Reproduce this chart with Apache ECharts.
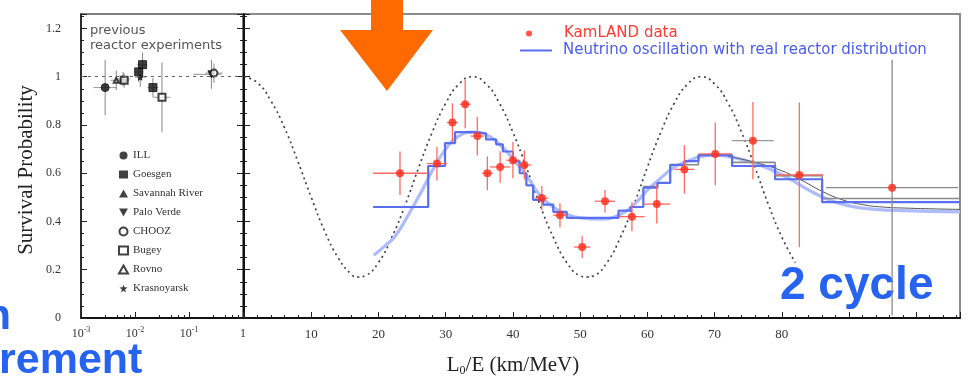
<!DOCTYPE html>
<html>
<head>
<meta charset="utf-8">
<script src="https://cdn.jsdelivr.net/npm/echarts@6/dist/echarts.min.js"></script>
<style>html,body{margin:0;background:#fff}#chart{width:971px;height:382px}</style>
</head>
<body>
<div id="chart"></div>
<script>
// previous reactor experiments (left panel, log L/E)
const prevNames = ['ILL', 'Goesgen', 'Savannah River', 'Palo Verde', 'CHOOZ', 'Bugey', 'Rovno', 'Krasnoyarsk'];
const prevExp = [0, 6, 2, 5, 1, 1, 7, 1, 5, 3, 4];
const prevX = [0.0028, 0.0045, 0.0060, 0.0063, 0.0117, 0.0138, 0.0125, 0.0215, 0.0316, 0.26, 0.29];
const prevY = [0.955, 0.985, 0.99, 0.985, 1.02, 1.05, 0.998, 0.955, 0.915, 1.01, 1.015];
const prevYErr = [0.115, 0.04, 0.03, 0.03, 0.04, 0.05, 0.04, 0.04, 0.145, 0.06, 0.04];
const prevXLo = [0.0017, 0.0035, 0.0045, 0.005, 0.0095, 0.011, 0.010, 0.017, 0.022, 0.12, 0.2];
const prevXHi = [0.0045, 0.0055, 0.0080, 0.0078, 0.0145, 0.017, 0.016, 0.027, 0.045, 0.4, 0.42];

// KamLAND data
const kamX = [23.2, 28.7, 31.0, 32.9, 34.7, 36.2, 38.1, 40.0, 41.7, 44.3, 47.0, 50.3, 53.7, 57.7, 61.4, 65.5, 70.1, 75.7, 82.6, 96.4];
const kamY = [0.60, 0.64, 0.81, 0.886, 0.754, 0.60, 0.626, 0.654, 0.634, 0.497, 0.426, 0.294, 0.484, 0.42, 0.472, 0.616, 0.68, 0.735, 0.593, 0.54];
const kamYErr = [0.09, 0.07, 0.08, 0.10, 0.08, 0.07, 0.065, 0.075, 0.06, 0.05, 0.05, 0.045, 0.047, 0.06, 0.08, 0.10, 0.13, 0.16, 0.30, 0.53];
const kamXErr = [4.0, 1.5, 0.8, 0.8, 1.0, 0.8, 1.5, 1.0, 1.0, 1.0, 1.0, 1.2, 1.5, 1.9, 2.0, 1.5, 2.5, 3.1, 3.6, 9.8];

// dotted oscillation curve
const oscX = [0, 2, 4, 6, 8, 10, 12, 14, 16, 17, 18, 20, 22, 24, 26, 28, 30, 32, 34, 36, 38, 40, 42, 44, 46, 48, 50, 51, 52, 54, 56, 58, 60, 62, 64, 66, 68, 70, 72, 74, 76, 78, 80, 82];
const oscY = [1.0, 0.975, 0.90, 0.79, 0.65, 0.50, 0.36, 0.25, 0.18, 0.17, 0.175, 0.23, 0.335, 0.47, 0.625, 0.77, 0.89, 0.97, 1.0, 0.97, 0.89, 0.77, 0.625, 0.47, 0.335, 0.23, 0.175, 0.17, 0.175, 0.23, 0.335, 0.47, 0.625, 0.77, 0.89, 0.97, 1.0, 0.97, 0.89, 0.77, 0.625, 0.47, 0.335, 0.23];

// light blue smooth expectation
const smoothX = [19.3, 21, 22.5, 24.5, 26.5, 28, 30, 32, 34, 36, 38, 40, 42, 44, 46, 48, 50, 53, 56, 58, 60, 62, 64, 66, 68, 70, 72, 75, 78, 81, 84, 87, 90, 94, 98, 106.5];
const smoothY = [0.26, 0.30, 0.34, 0.43, 0.53, 0.61, 0.70, 0.755, 0.77, 0.76, 0.72, 0.66, 0.59, 0.51, 0.46, 0.43, 0.415, 0.41, 0.43, 0.47, 0.53, 0.58, 0.625, 0.65, 0.67, 0.675, 0.67, 0.65, 0.62, 0.58, 0.53, 0.49, 0.465, 0.45, 0.445, 0.44];

// gray best-fit tail
const fitX = [72, 76, 80, 83, 86, 89, 92, 95, 99, 103, 106.5];
const fitY = [0.67, 0.645, 0.61, 0.57, 0.525, 0.49, 0.47, 0.46, 0.455, 0.452, 0.45];

// histograms (bin edges + bin values)
const blueEdges = [19.2, 27.4, 29.9, 31.4, 34.5, 36, 37.5, 38.5, 40, 41, 42, 43, 44.5, 46, 48, 55.7, 57.5, 59.4, 61.5, 63.4, 65.5, 67.6, 72.6, 79, 86, 106.5];
const blueVals = [0.46, 0.63, 0.725, 0.77, 0.765, 0.74, 0.72, 0.69, 0.65, 0.60, 0.55, 0.49, 0.47, 0.44, 0.415, 0.445, 0.46, 0.54, 0.56, 0.635, 0.65, 0.675, 0.63, 0.575, 0.48];
const grayEdges = [59.4, 61.5, 63.4, 67.6, 72.6, 79, 86, 106.5];
const grayVals = [0.545, 0.56, 0.635, 0.675, 0.645, 0.59, 0.495];

const serif = 'Liberation Serif';
const sans = 'DejaVu Sans';
const steps = (edges, vals) => edges.map((e, i) => [e, vals[Math.min(i, vals.length - 1)]]);
const pairs = (xs, ys) => xs.map((x, i) => [x, ys[i]]);

const prevSymbols = ['circle', 'rect', 'triangle', 'path://M0,0L10,0L5,9Z', 'emptyCircle', 'emptyRect', 'emptyTriangle',
  'path://M5,0L6.2,3.5L10,3.8L7,6.2L8,10L5,7.8L2,10L3,6.2L0,3.8L3.8,3.5Z'];
const prevSizes = [8, 8, 7, 7, 7, 7, 5, 6];

function errorBars(getColor, width) {
  return function (params, api) {
    const x = api.value(0), y = api.value(1);
    const a = api.coord([api.value(2), y]);
    const b = api.coord([api.value(3), y]);
    const c = api.coord([x, api.value(4)]);
    const d = api.coord([x, api.value(5)]);
    const col = getColor(params.dataIndex);
    return {
      type: 'group',
      children: [
        {type: 'line', shape: {x1: a[0], y1: a[1], x2: b[0], y2: b[1]}, style: {stroke: col.x, lineWidth: width}},
        {type: 'line', shape: {x1: c[0], y1: c[1], x2: d[0], y2: d[1]}, style: {stroke: col.y, lineWidth: width}}
      ]
    };
  };
}

const chart = echarts.init(document.getElementById('chart'));
const tickStyle = {color: '#222', width: 1};

chart.setOption({
  animation: false,
  grid: [
    {left: 81, top: 14, width: 162, height: 304, show: true, borderColor: '#555', borderWidth: 1.5},
    {left: 244, top: 14, width: 716, height: 304, show: true, borderColor: '#8a8a8a', borderWidth: 2}
  ],
  xAxis: [
    {
      type: 'log', gridIndex: 0, min: 0.001, max: 1, logBase: 10,
      axisLine: {lineStyle: {color: '#111', width: 2}},
      axisTick: {inside: true, length: 6, lineStyle: tickStyle},
      minorTick: {show: true, splitNumber: 5, length: 3, lineStyle: tickStyle},
      splitLine: {show: false},
      axisLabel: {
        fontFamily: serif, fontSize: 12, color: '#333', margin: 8, lineHeight: 15,
        formatter: v => v >= 0.999 ? '1' : '10{sup|' + Math.round(Math.log10(v)) + '}',
        rich: {sup: {fontSize: 8, fontFamily: serif, color: '#333', verticalAlign: 'top', lineHeight: 8}}
      }
    },
    {
      type: 'value', gridIndex: 1, min: 0, max: 106.5, interval: 10,
      axisLine: {lineStyle: {color: '#111', width: 2}},
      axisTick: {inside: true, length: 6, lineStyle: tickStyle},
      minorTick: {show: true, splitNumber: 5, length: 3, lineStyle: tickStyle},
      splitLine: {show: false},
      axisLabel: {
        fontFamily: serif, fontSize: 13, color: '#333', margin: 10,
        formatter: v => (v > 0 && v <= 80) ? String(v) : ''
      }
    }
  ],
  yAxis: [
    {
      type: 'value', gridIndex: 0, min: 0, max: 1.26, interval: 0.2,
      axisLine: {lineStyle: {color: '#111', width: 1.5}},
      axisTick: {inside: true, length: 6, lineStyle: tickStyle},
      minorTick: {show: true, splitNumber: 4, length: 3, lineStyle: tickStyle},
      splitLine: {show: false},
      axisLabel: {
        fontFamily: serif, fontSize: 12, color: '#333', margin: 20,
        formatter: v => v > 1.21 ? '' : String(Number(v.toFixed(1)))
      }
    },
    {
      type: 'value', gridIndex: 1, min: 0, max: 1.26, interval: 0.2,
      axisLine: {lineStyle: {color: '#111', width: 2}},
      axisTick: {inside: true, length: 6, lineStyle: tickStyle},
      minorTick: {show: true, splitNumber: 4, length: 3, lineStyle: tickStyle},
      splitLine: {show: false},
      axisLabel: {show: false}
    },
    {
      type: 'value', gridIndex: 0, position: 'right', min: 0, max: 1.26, interval: 0.2,
      axisLine: {show: false},
      axisTick: {inside: true, length: 6, lineStyle: tickStyle},
      minorTick: {show: true, splitNumber: 4, length: 3, lineStyle: tickStyle},
      splitLine: {show: false},
      axisLabel: {show: false}
    }
  ],
  legend: [
    {
      data: [{name: 'KamLAND data', icon: 'circle'}],
      selectedMode: false, left: 521, top: 21, itemWidth: 32, itemHeight: 6,
      textStyle: {color: '#ff3b30', fontSize: 15, fontFamily: sans, padding: [0, 0, 0, 14]}
    },
    {
      data: [{name: 'Neutrino oscillation with real reactor distribution', icon: 'rect'}],
      selectedMode: false, left: 515, top: 38, itemWidth: 32, itemHeight: 2,
      textStyle: {color: '#4a5cf0', fontSize: 15, fontFamily: sans, padding: [0, 0, 0, 6]}
    },
    {
      data: prevNames.map((n, i) => ({name: n, icon: prevSymbols[i]})),
      selectedMode: false, orient: 'vertical', left: 113, top: 145,
      itemWidth: 9, itemHeight: 8, itemGap: 8,
      textStyle: {color: '#333', fontSize: 11, fontFamily: serif, padding: [0, 0, 0, 0]}
    }
  ],
  graphic: [
    {
      type: 'polygon', z: 100,
      shape: {points: [[371, 0], [403, 0], [403, 30], [433, 30], [387, 91], [340, 30], [371, 30]]},
      style: {fill: '#ff6a00'}
    },
    {
      type: 'text', left: 90, top: 23,
      style: {text: 'previous\nreactor experiments', fill: '#555', font: '13px "DejaVu Sans"', lineHeight: 15}
    },
    {
      type: 'text', x: 26, y: 170, rotation: Math.PI / 2,
      style: {text: 'Survival Probability', fill: '#222', font: '21px "Liberation Serif"', align: 'center', verticalAlign: 'middle'}
    },
    {
      type: 'text', x: 513, y: 365,
      style: {
        text: '{a|L}{s|0}{a|/E (km/MeV)}', align: 'center', verticalAlign: 'middle',
        rich: {
          a: {fontSize: 21, fontFamily: serif, fill: '#222', lineHeight: 24},
          s: {fontSize: 12, fontFamily: serif, fill: '#222', lineHeight: 12, verticalAlign: 'bottom'}
        }
      }
    },
    {
      type: 'text', x: 780, y: 286,
      style: {text: '2 cycle', fill: '#2563f0', font: 'bold 46px "Liberation Sans"', align: 'left', verticalAlign: 'middle'}
    },
    {
      type: 'text', x: -1, y: 361,
      style: {text: 'rement', fill: '#2563f0', font: 'bold 43px "Liberation Sans"', align: 'left', verticalAlign: 'middle'}
    },
    {
      type: 'text', x: 11, y: 317,
      style: {text: 'n', fill: '#2563f0', font: 'bold 43px "Liberation Sans"', align: 'right', verticalAlign: 'middle'}
    }
  ],
  series: [
    // left panel
    {
      type: 'custom', name: 'prevErr', xAxisIndex: 0, yAxisIndex: 0, clip: true, z: 3,
      renderItem: errorBars(() => ({x: '#999', y: '#888'}), 1),
      encode: {x: 0, y: 1},
      data: prevX.map((x, i) => [x, prevY[i], prevXLo[i], prevXHi[i], prevY[i] - prevYErr[i], prevY[i] + prevYErr[i]]),
      markLine: {
        silent: true, symbol: 'none', label: {show: false},
        lineStyle: {color: '#666', type: [3, 4], width: 1},
        data: [{yAxis: 1}]
      }
    },
    ...prevNames.map((n, k) => ({
      type: 'scatter', name: n, xAxisIndex: 0, yAxisIndex: 0, z: 4,
      symbol: prevSymbols[k], symbolSize: prevSizes[k],
      itemStyle: {color: '#111', borderColor: '#111'},
      data: prevX.map((x, i) => [x, prevY[i], prevExp[i]]).filter(d => d[2] === k).map(d => [d[0], d[1]])
    })),
    // right panel
    {
      type: 'line', name: 'oscillation', xAxisIndex: 1, yAxisIndex: 1, smooth: true, showSymbol: false, z: 2,
      lineStyle: {color: '#444', width: 1.7, type: [2, 3.5]},
      data: pairs(oscX, oscY)
    },
    {
      type: 'line', name: 'smooth', xAxisIndex: 1, yAxisIndex: 1, smooth: true, showSymbol: false, z: 2,
      lineStyle: {color: '#aebcff', width: 3.2},
      data: pairs(smoothX, smoothY)
    },
    {
      type: 'line', name: 'fit', xAxisIndex: 1, yAxisIndex: 1, smooth: true, showSymbol: false, z: 3,
      lineStyle: {color: '#555', width: 1},
      data: pairs(fitX, fitY)
    },
    {
      type: 'line', name: 'gray histogram', xAxisIndex: 1, yAxisIndex: 1, step: 'end', showSymbol: false, z: 3,
      lineStyle: {color: '#8a8a8a', width: 1.6},
      data: steps(grayEdges, grayVals)
    },
    {
      type: 'line', name: 'Neutrino oscillation with real reactor distribution', xAxisIndex: 1, yAxisIndex: 1,
      step: 'end', showSymbol: false, z: 4,
      itemStyle: {color: '#5a6ff0'},
      lineStyle: {color: '#5a6ff0', width: 2.2},
      data: steps(blueEdges, blueVals)
    },
    {
      type: 'custom', name: 'kamErr', xAxisIndex: 1, yAxisIndex: 1, clip: true, z: 5,
      renderItem: errorBars(i => i === 19 ? {x: '#8a8a8a', y: '#8a8a8a'} : (i === 17 ? {x: '#999', y: '#ff6a60'} : {x: '#ff6a60', y: '#ff6a60'}), 1.3),
      encode: {x: 0, y: 1},
      data: kamX.map((x, i) => [x, kamY[i], x - kamXErr[i], x + kamXErr[i], kamY[i] - kamYErr[i], kamY[i] + kamYErr[i]])
    },
    {
      type: 'scatter', name: 'KamLAND data', xAxisIndex: 1, yAxisIndex: 1, z: 6,
      symbol: 'circle', symbolSize: 8,
      itemStyle: {color: '#ff2b1c'},
      data: pairs(kamX, kamY)
    }
  ]
});
</script>
</body>
</html>
